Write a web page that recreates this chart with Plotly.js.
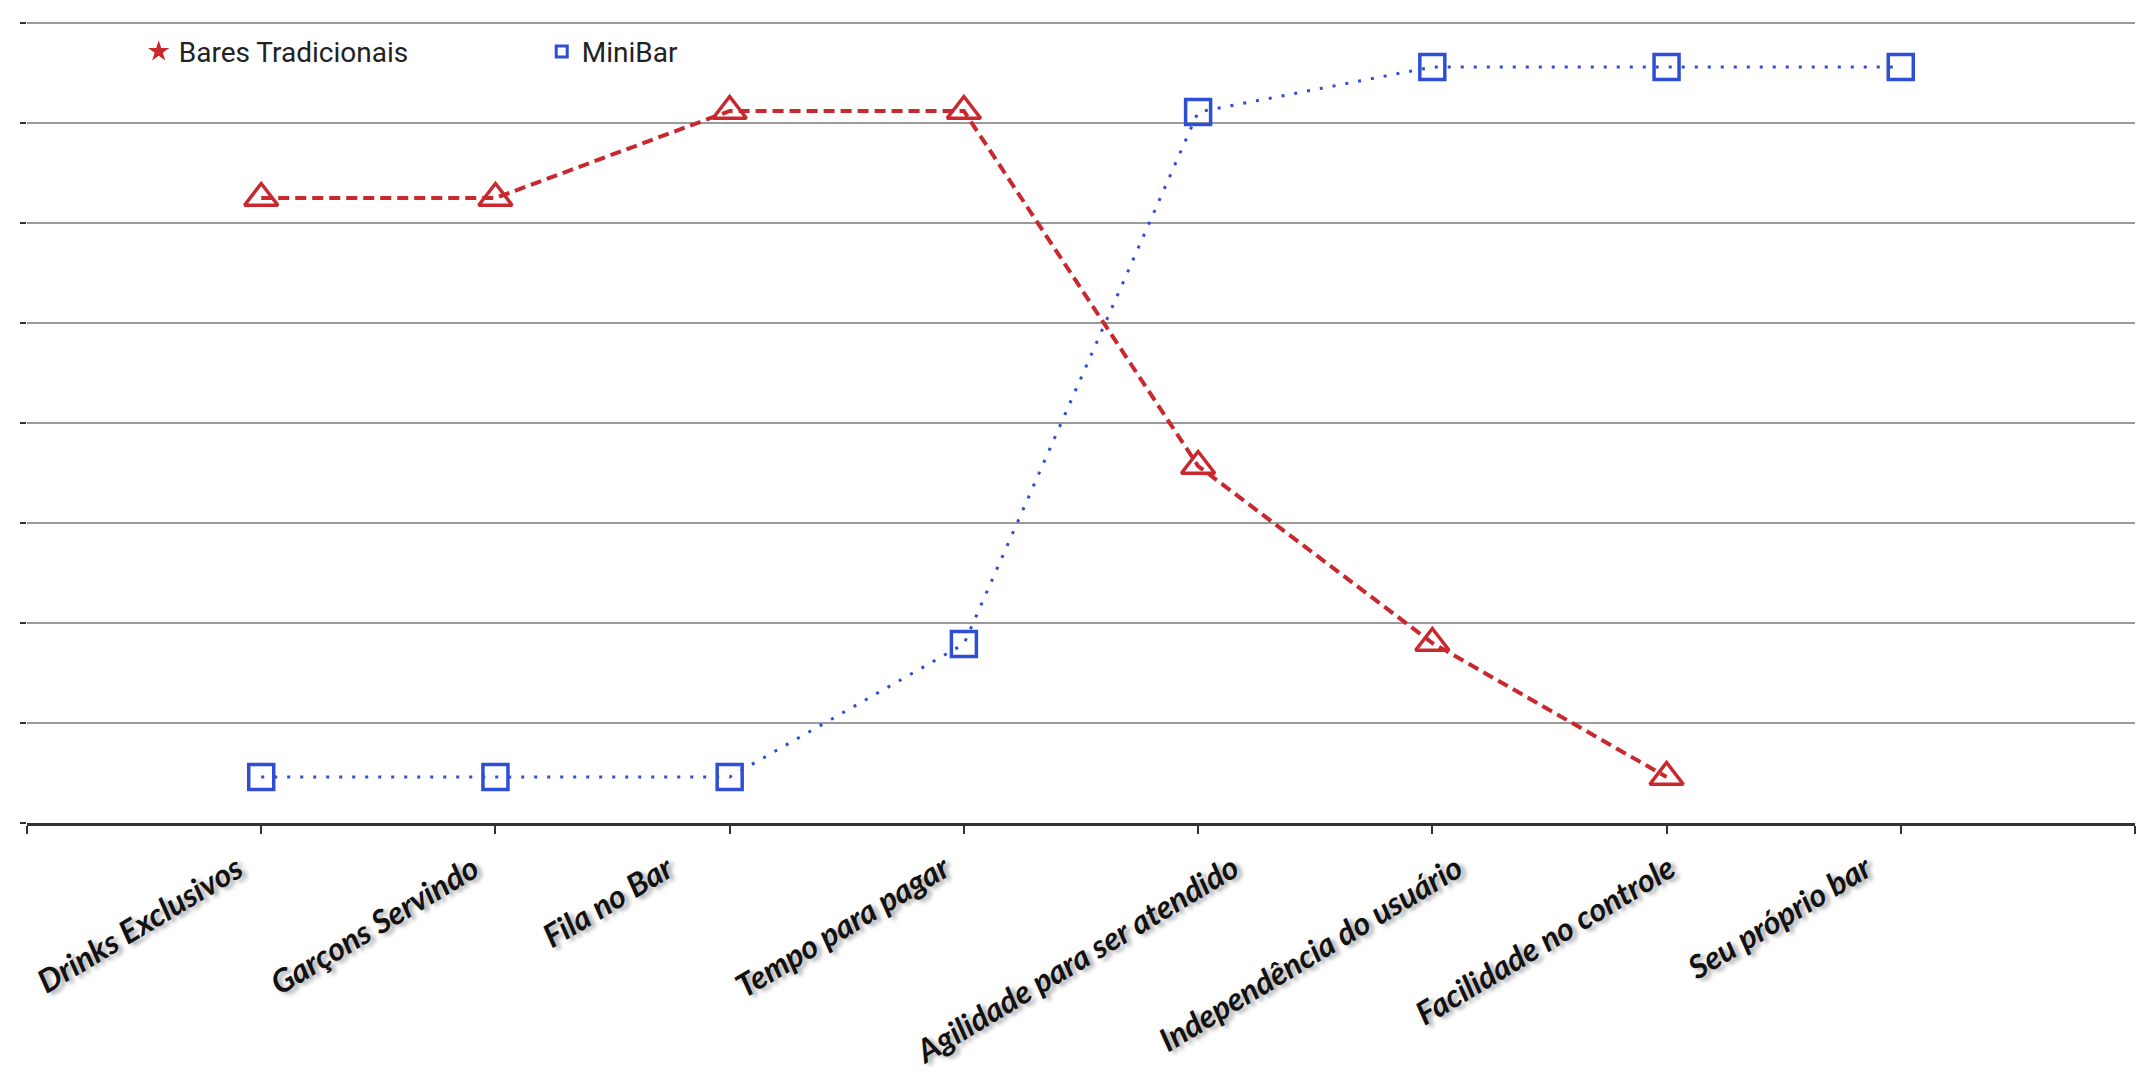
<!DOCTYPE html>
<html>
<head>
<meta charset="utf-8">
<script src="https://cdn.plot.ly/plotly-3.0.1.min.js"></script>
<style>html,body{margin:0;padding:0;background:#fff;}#chart{width:2149px;height:1087px;}</style>
</head>
<body>
<div id="chart"></div>
<script>
const categories = ["Drinks Exclusivos", "Garçons Servindo", "Fila no Bar", "Tempo para pagar",
  "Agilidade para ser atendido", "Independência do usuário", "Facilidade no controle", "Seu próprio bar"];
const baresTradicionais = [6.25, 6.25, 7.12, 7.12, 3.57, 1.80, 0.46];
const miniBar = [0.46, 0.46, 0.46, 1.79, 7.11, 7.56, 7.56, 7.56];
const seriesNames = ["Bares Tradicionais", "MiniBar"];

const red = "#c9282f";
const blue = "#2e4fd4";
const xIdx = categories.map((c, i) => i);

const tickVals = [-1].concat(xIdx, [categories.length]);

const traces = [
  {
    x: xIdx.slice(0, baresTradicionais.length), y: baresTradicionais,
    mode: "lines+markers", name: seriesNames[0], showlegend: false,
    line: {color: red, width: 4, dash: "11px,6px"},
    marker: {symbol: "triangle-up-open", size: 29, color: red, line: {color: red, width: 3.5}}
  },
  {
    x: xIdx, y: miniBar,
    mode: "lines+markers", name: seriesNames[1], showlegend: false,
    line: {color: blue, width: 3, dash: "3px,10px"},
    marker: {symbol: "square-open", size: 25, color: blue, line: {color: blue, width: 3.5}}
  },
  {
    x: [null], y: [null], mode: "markers", name: seriesNames[0], showlegend: true,
    marker: {symbol: "star", size: 17, color: red}
  },
  {
    x: [null], y: [null], mode: "markers", name: seriesNames[1], showlegend: true,
    marker: {symbol: "square-open", size: 11, color: blue, line: {color: blue, width: 3}}
  }
];

// category labels: rotated text whose box centre sits left of its tick, top aligned below the axis
const labelShift = -0.52;
const annotations = categories.map((c, i) => ({
  text: c, x: i + labelShift, xref: "x", y: -0.026, yref: "paper",
  xanchor: "center", yanchor: "top", showarrow: false, textangle: -31,
  font: {family: "Lato, sans-serif", size: 32, color: "#111", weight: "bold", style: "italic",
    shadow: "3px 4px 4px rgba(0,0,0,0.35)"}
}));

const layout = {
  width: 2149, height: 1087,
  margin: {l: 27, r: 14, t: 18, b: 264},
  paper_bgcolor: "#ffffff", plot_bgcolor: "#ffffff",
  showlegend: true,
  legend: {
    orientation: "h", x: 0.053, xanchor: "left", y: 0.958, yanchor: "middle",
    font: {family: "Roboto, sans-serif", size: 28, color: "#222"},
    bgcolor: "rgba(0,0,0,0)", entrywidth: 358, entrywidthmode: "pixels"
  },
  annotations: annotations,
  xaxis: {
    type: "linear", range: [-1, categories.length],
    tickmode: "array", tickvals: tickVals, showticklabels: false,
    ticks: "outside", ticklen: 8, tickwidth: 2, tickcolor: "#333",
    showgrid: false, zeroline: false,
    showline: true, linecolor: "#333", linewidth: 3
  },
  yaxis: {
    range: [0, 8.05], dtick: 1, tick0: 0,
    showticklabels: false, ticks: "outside", ticklen: 6, tickwidth: 2, tickcolor: "#333",
    showgrid: true, gridcolor: "#9a9a9a", gridwidth: 2,
    zeroline: false, showline: false
  }
};

Plotly.newPlot("chart", traces, layout, {displayModeBar: false, staticPlot: true});
</script>
</body>
</html>
